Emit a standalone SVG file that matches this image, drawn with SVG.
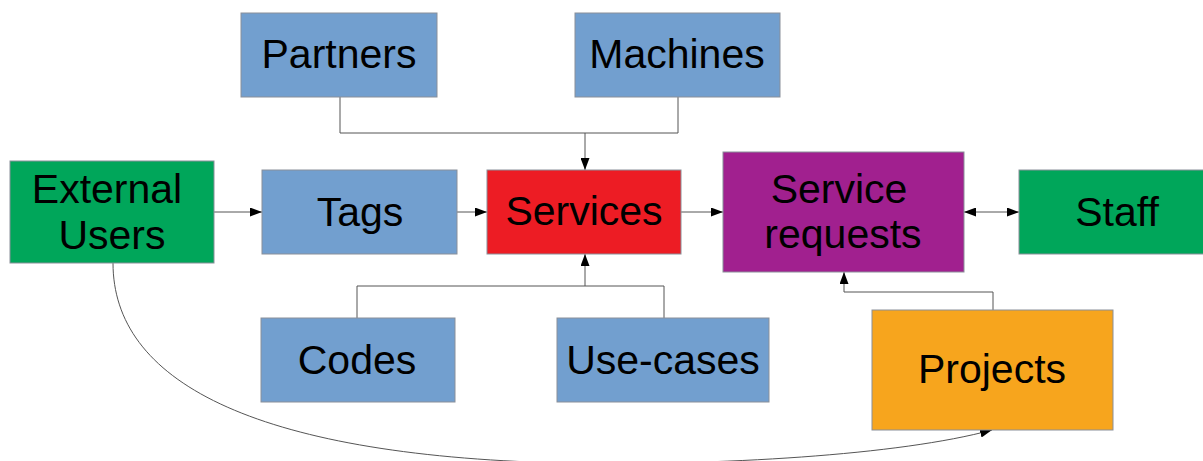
<svg xmlns="http://www.w3.org/2000/svg" width="1203" height="461" viewBox="0 0 1203 461">
<defs>
<marker id="arr" viewBox="0 0 12 9" markerWidth="12" markerHeight="9" refX="12" refY="4.5" orient="auto-start-reverse" markerUnits="userSpaceOnUse">
<path d="M0,0 L12,4.5 L0,9 z" fill="#000"/>
</marker>
<style>
.box{stroke:#8a8f99;stroke-width:1}
.blue{fill:#729fcf}
.green{fill:#00a65a}
.red{fill:#ed1c24}
.purple{fill:#a1208f}
.orange{fill:#f7a51d}
.t{font-family:"Liberation Sans",Arial,sans-serif;font-size:41px;fill:#000;text-anchor:middle}
.c{fill:none;stroke:#555;stroke-width:1}
</style>
</defs>
<rect width="1203" height="461" fill="#fff"/>
<g id="connectors">
<path class="c" d="M340,97 V133 H678 V97"/>
<path class="c" d="M585,133 V170" marker-end="url(#arr)"/>
<path class="c" d="M357,318 V286 H664 V318"/>
<path class="c" d="M585,286 V254" marker-end="url(#arr)"/>
<path class="c" d="M214,212 H262" marker-end="url(#arr)"/>
<path class="c" d="M457,212 H487" marker-end="url(#arr)"/>
<path class="c" d="M681,212 H723" marker-end="url(#arr)"/>
<path class="c" d="M964,212 H1019" marker-start="url(#arr)" marker-end="url(#arr)"/>
<path class="c" d="M993,310 V292 H844 V272" marker-end="url(#arr)"/>
<path class="c" d="M113,263 C113,380 250,455 560,463 C720,466 900,455 992,430" marker-end="url(#arr)"/>
</g>
<g id="partners"><rect class="box blue" x="241" y="13" width="196" height="84"/><text class="t" x="339" y="68">Partners</text></g>
<g id="machines"><rect class="box blue" x="575" y="13" width="205" height="84"/><text class="t" x="677" y="68">Machines</text></g>
<g id="external-users"><rect class="box green" x="10" y="161" width="204" height="102"/><text class="t" x="107" y="203">External</text><text class="t" x="112" y="249">Users</text></g>
<g id="tags"><rect class="box blue" x="262" y="170" width="195" height="84"/><text class="t" x="360" y="226">Tags</text></g>
<g id="services"><rect class="box red" x="487" y="170" width="194" height="84"/><text class="t" x="584" y="225">Services</text></g>
<g id="service-requests"><rect class="box purple" x="723" y="152" width="241" height="120"/><text class="t" x="839" y="203">Service</text><text class="t" x="843" y="248">requests</text></g>
<g id="staff"><rect class="box green" x="1019" y="170" width="190" height="84"/><text class="t" x="1117" y="226">Staff</text></g>
<g id="codes"><rect class="box blue" x="261" y="318" width="194" height="84"/><text class="t" x="357" y="374">Codes</text></g>
<g id="use-cases"><rect class="box blue" x="557" y="318" width="212" height="84"/><text class="t" x="663" y="374">Use-cases</text></g>
<g id="projects"><rect class="box orange" x="872" y="310" width="241" height="120"/><text class="t" x="992" y="383">Projects</text></g>
</svg>
